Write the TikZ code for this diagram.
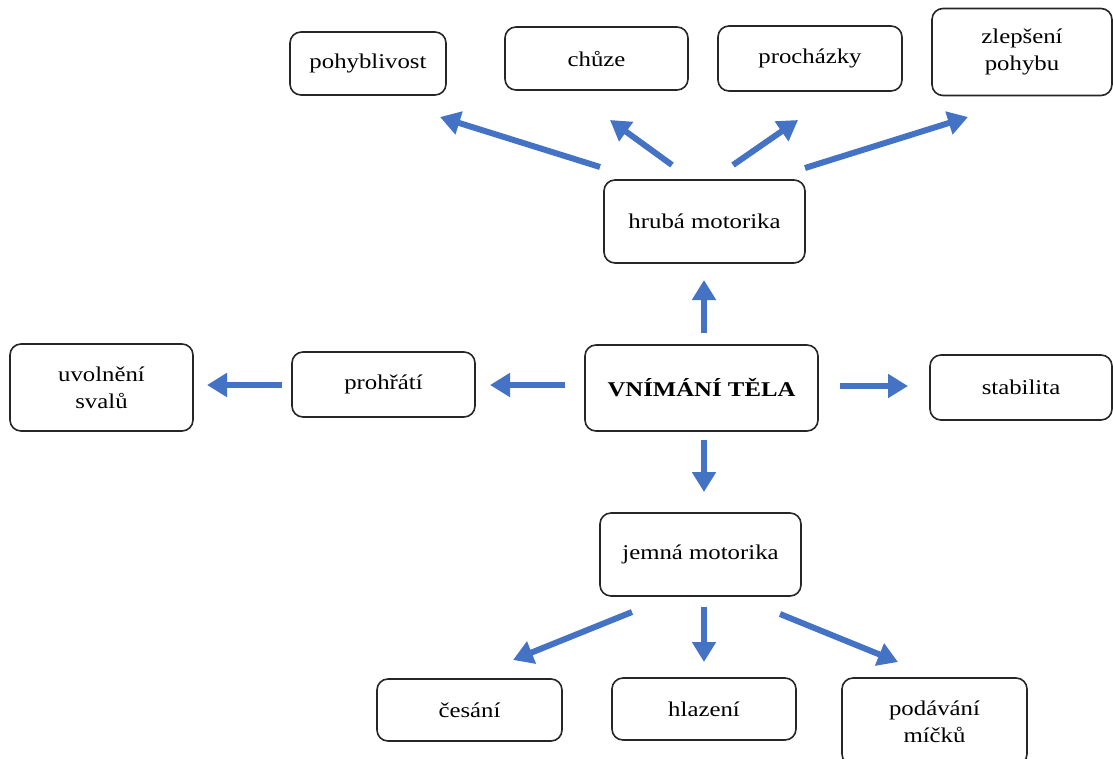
\documentclass[tikz,border=0pt]{standalone}
\usepackage{fontspec}
\setmainfont{Liberation Serif}[FakeStretch=1.18]
\usetikzlibrary{arrows.meta,calc}
\definecolor{arrblue}{HTML}{4472C4}
\begin{document}
\begin{tikzpicture}[x=1pt,y=-1pt,
  box/.style={draw=black!85, line width=1.6pt, rounded corners=11pt, align=center,
    inner sep=0pt, font=\fontsize{21}{27}\selectfont, fill=white},
  arr/.style={draw=arrblue, line width=6pt, -{Triangle[length=20pt,width=23pt]}}]
\clip (0,0) rectangle (1113,758);
\useasboundingbox (0,0) rectangle (1113,758);
\node[box, minimum width=156pt, minimum height=63pt] (pohyb) at (368,63.5) {pohyblivost};
\node[box, minimum width=183pt, minimum height=63pt] (chuze) at (596.5,58.5) {chůze};
\node[box, minimum width=184pt, minimum height=65pt] (prochazky) at (810,58.5) {procházky};
\node[box, minimum width=180pt, minimum height=87pt] (zlepseni) at (1022,52) {zlepšení\\pohybu};
\node[box, minimum width=201pt, minimum height=83pt] (hruba) at (704.5,221.5) {hrubá motorika};
\node[box, minimum width=183pt, minimum height=87pt] (uvolneni) at (101.5,387.5) {uvolnění\\svalů};
\node[box, minimum width=183pt, minimum height=65pt] (prohrati) at (383.5,384.5) {prohřátí};
\node[box, minimum width=233pt, minimum height=86pt, font=\fontsize{21}{27}\selectfont\bfseries] (vnimani) at (701.5,388) {VNÍMÁNÍ TĚLA};
\node[box, minimum width=182pt, minimum height=65pt] (stabilita) at (1021,387.5) {stabilita};
\node[box, minimum width=201pt, minimum height=83pt] (jemna) at (700.5,554.5) {jemná motorika};
\node[box, minimum width=185pt, minimum height=62pt] (cesani) at (469.5,710) {česání};
\node[box, minimum width=184pt, minimum height=62pt] (hlazeni) at (704,709) {hlazení};
\node[box, minimum width=185pt, minimum height=87pt] (podavani) at (934.5,721.5) {podávání\\míčků};
\draw[arr] ($(hruba)+(-104.5,-54.5)$) -- ($(pohyb)+(72,53.5)$);
\draw[arr] ($(hruba)+(-32.5,-56.5)$) -- ($(chuze)+(13.5,61.5)$);
\draw[arr] ($(hruba)+(28.5,-56.5)$) -- ($(prochazky)+(-12,61.5)$);
\draw[arr] ($(hruba)+(100.5,-53.5)$) -- ($(zlepseni)+(-54,65)$);
\draw[arr] ($(vnimani)+(2.5,-55)$) -- ($(hruba)+(-0.5,58.5)$);
\draw[arr] ($(vnimani)+(-136.5,-3)$) -- ($(prohrati)+(106.5,0.5)$);
\draw[arr] ($(prohrati)+(-101.5,0.5)$) -- ($(uvolneni)+(105.5,-2.5)$);
\draw[arr] ($(vnimani)+(138.5,-2)$) -- ($(stabilita)+(-113,-1.5)$);
\draw[arr] ($(vnimani)+(2.5,52)$) -- ($(jemna)+(3.5,-62.5)$);
\draw[arr] ($(jemna)+(-68.5,57.5)$) -- ($(cesani)+(43.5,-50)$);
\draw[arr] ($(jemna)+(3.5,52.5)$) -- ($(hlazeni)+(0,-47)$);
\draw[arr] ($(jemna)+(79.5,59.5)$) -- ($(podavani)+(-36.5,-59.5)$);
\end{tikzpicture}
\end{document}
